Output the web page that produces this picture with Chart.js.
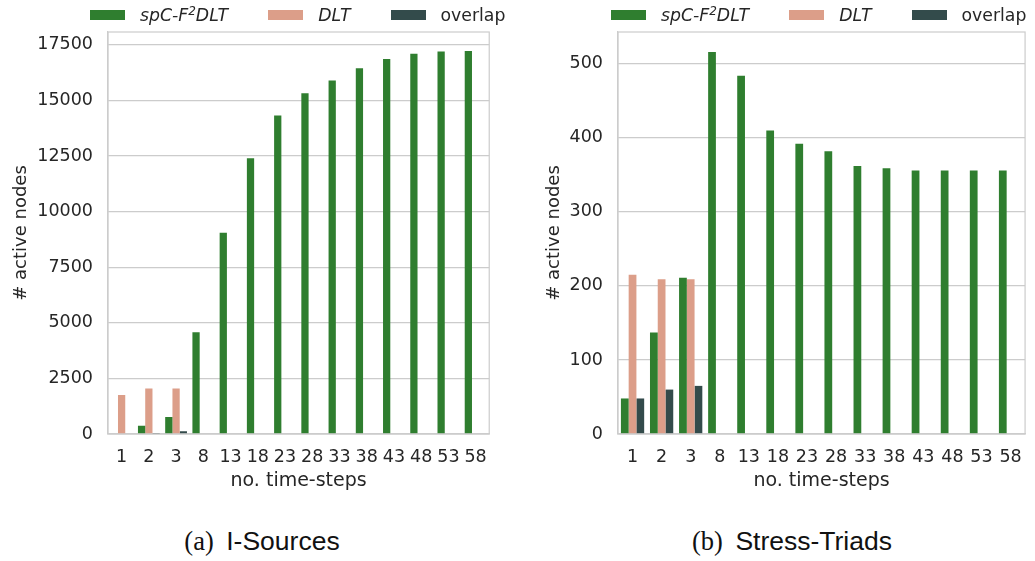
<!DOCTYPE html>
<html><head><meta charset="utf-8">
<script src="https://cdn.jsdelivr.net/npm/chart.js@4.4.1/dist/chart.umd.min.js"></script>
<style>
html,body{margin:0;padding:0;background:#fff;}
body{width:1035px;height:561px;position:relative;overflow:hidden;font-family:"DejaVu Sans",sans-serif;color:#262626;}
.cw{position:absolute;top:0;height:500px;}
.legend{position:absolute;top:5px;display:flex;align-items:center;font-size:17.3px;color:#262626;white-space:nowrap;}
.legend .box{display:inline-block;width:35px;height:10px;margin-right:15px;}
.legend .item{display:flex;align-items:center;margin-right:40px;}
.legend sup{font-size:12px;vertical-align:6px;line-height:0;}
.cap{position:absolute;top:526px;font-size:26.5px;line-height:30px;color:#111;white-space:nowrap;transform:translateX(-50%);}
.cap .p{font-family:"Liberation Serif","DejaVu Serif",serif;margin-right:4px;}
.cap .t{font-family:"Liberation Sans",sans-serif;}
</style>
</head><body>
<div class="cw" style="left:0;width:500px;"><canvas id="c1" width="500" height="500"></canvas></div>
<div class="cw" style="left:520px;width:515px;"><canvas id="c2" width="515" height="500"></canvas></div>
<div class="legend" id="lg1" style="left:90px;"></div>
<div class="legend" id="lg2" style="left:611px;"></div>
<div class="cap" style="left:262px;"><span class="p">(a)</span> <span class="t">I-Sources</span></div>
<div class="cap" style="left:792px;"><span class="p">(b)</span> <span class="t">Stress-Triads</span></div>
<script>
// ---- data ----
const categories = ['1','2','3','8','13','18','23','28','33','38','43','48','53','58'];
const seriesNames = ['spC-F²DLT', 'DLT', 'overlap'];
const seriesItalic = [true, true, false];
const seriesColors = ['#2f7e2f', '#dc9e89', '#334b4b'];

// (a) I-Sources
const iSourcesSpc     = [0, 370, 760, 4580, 9050, 12400, 14330, 15330, 15900, 16450, 16870, 17100, 17200, 17220];
const iSourcesDlt     = [1750, 2050, 2050, 0, 0, 0, 0, 0, 0, 0, 0, 0, 0, 0];
const iSourcesOverlap = [0, 50, 120, 0, 0, 0, 0, 0, 0, 0, 0, 0, 0, 0];
const iSourcesTicks   = [0, 2500, 5000, 7500, 10000, 12500, 15000, 17500];

// (b) Stress-Triads
const stressSpc     = [48, 137, 211, 516, 484, 410, 392, 382, 362, 359, 356, 356, 356, 356];
const stressDlt     = [215, 209, 209, 0, 0, 0, 0, 0, 0, 0, 0, 0, 0, 0];
const stressOverlap = [48, 60, 65, 0, 0, 0, 0, 0, 0, 0, 0, 0, 0, 0];
const stressTicks   = [0, 100, 200, 300, 400, 500];

const yTitle = '# active nodes';
const xTitle = 'no. time-steps';

// ---- chart construction ----
const TICKFONT = {family: 'DejaVu Sans', size: 17.5};
const XTITLEFONT = {family: 'DejaVu Sans', size: 19};
const YTITLEFONT = {family: 'DejaVu Sans', size: 18};
const GRID = '#cccccc';
const TXT = '#262626';

const framePlugin = {
  id: 'frame',
  afterDraw(chart) {
    const a = chart.chartArea, ctx = chart.ctx;
    ctx.save();
    ctx.strokeStyle = GRID; ctx.lineWidth = 1.2;
    ctx.strokeRect(a.left, a.top, a.right - a.left, a.bottom - a.top);
    ctx.restore();
  }
};

function makeChart(id, vals, tickVals, yMax, yWidth, padRight, titlePad) {
  const datasets = vals.map((v, i) => ({
    label: seriesNames[i], data: v, backgroundColor: seriesColors[i],
    borderWidth: 0, categoryPercentage: 0.8, barPercentage: 1.0
  }));
  return new Chart(document.getElementById(id), {
    type: 'bar',
    data: {labels: categories, datasets},
    plugins: [framePlugin],
    options: {
      responsive: false, animation: false,
      layout: {padding: {top: 32, right: padRight, bottom: 0, left: 0}},
      plugins: {legend: {display: false}, tooltip: {enabled: false}},
      scales: {
        x: {
          grid: {display: false, drawTicks: false},
          border: {color: GRID, width: 1.2},
          ticks: {font: TICKFONT, color: TXT, padding: 13, maxRotation: 0, autoSkip: false},
          title: {display: true, text: xTitle, font: XTITLEFONT, color: TXT, padding: {top: 0, bottom: 7.5}},
          afterFit(s) { s.height = 66; }
        },
        y: {
          min: 0, max: yMax,
          grid: {color: GRID, lineWidth: 1.2, drawTicks: false},
          border: {color: GRID, width: 1.2},
          ticks: {font: TICKFONT, color: TXT, padding: 15, callback: v => String(v)},
          afterBuildTicks(s) { s.ticks = tickVals.map(v => ({value: v})); },
          title: {display: true, text: yTitle, font: YTITLEFONT, color: TXT, padding: {top: titlePad, bottom: 0}},
          afterFit(s) { s.width = yWidth; }
        }
      }
    }
  });
}

function makeLegend(id) {
  const el = document.getElementById(id);
  seriesNames.forEach((n, i) => {
    const it = document.createElement('div'); it.className = 'item';
    const b = document.createElement('span'); b.className = 'box'; b.style.background = seriesColors[i];
    const t = document.createElement('span');
    const html = n.replace('²', '<sup>2</sup>');
    t.innerHTML = seriesItalic[i] ? '<i>' + html + '</i>' : html;
    it.appendChild(b); it.appendChild(t); el.appendChild(it);
  });
}

makeChart('c1', [iSourcesSpc, iSourcesDlt, iSourcesOverlap], iSourcesTicks, 18080, 108, 7, 10.2);
makeChart('c2', [stressSpc, stressDlt, stressOverlap], stressTicks, 543, 98, 9, 23.2);
makeLegend('lg1');
makeLegend('lg2');
</script>
</body></html>
